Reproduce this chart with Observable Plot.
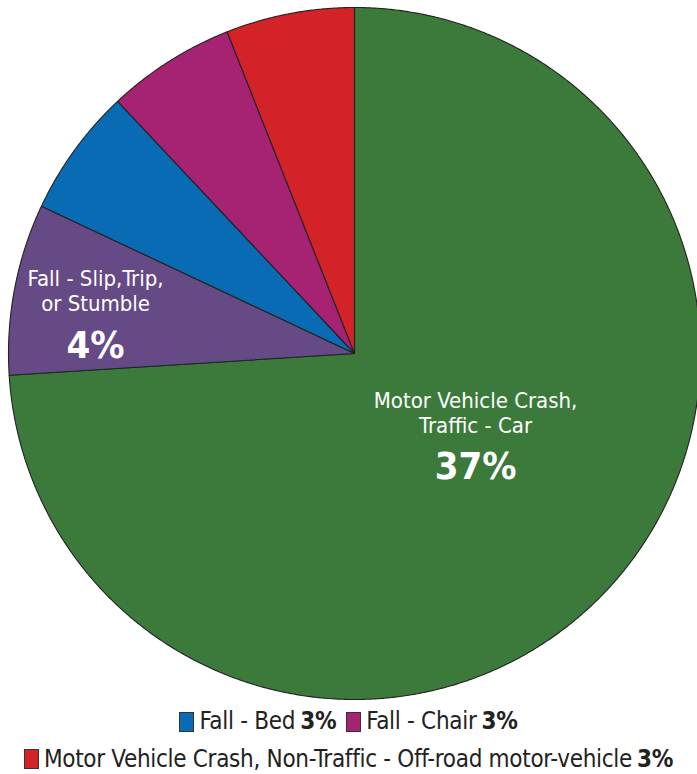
<!DOCTYPE html>
<html>
<head>
<meta charset="utf-8">
<script src="https://cdn.jsdelivr.net/npm/d3@7"></script>
<script src="https://cdn.jsdelivr.net/npm/@observablehq/plot@0.6"></script>
<style>
  html, body { margin: 0; padding: 0; background: #fff; }
  body { width: 697px; height: 774px; overflow: hidden; font-family: "DejaVu Sans Condensed", Roboto, sans-serif; }
  #chart svg { display: block; }
  .legend { text-align: center; font-size: 24px; color: #222; line-height: 35px; letter-spacing: -0.3px; white-space: nowrap; }
  .legend .item { display: inline-flex; align-items: center; margin: 0 5px; }
  .legend .sw { display: inline-block; width: 15px; height: 20px; border: 1.5px solid #333; margin-right: 5px; box-sizing: border-box; }
  .legend b { font-weight: bold; margin-left: 5px; }
</style>
</head>
<body>
<div id="chart"></div>
<div class="legend" id="legend"></div>
<script>
const categories = ["Motor Vehicle Crash, Traffic - Car", "Fall - Slip,Trip, or Stumble", "Fall - Bed", "Fall - Chair", "Motor Vehicle Crash, Non-Traffic - Off-road motor-vehicle"];
const values = [37, 4, 3, 3, 3];
const colors = ["#3b7a3b", "#654a86", "#0a6bb5", "#a62374", "#d42229"];
const sliceLabels = [["Motor Vehicle Crash,", "Traffic - Car"], ["Fall - Slip,Trip,", "or Stumble"], null, null, null];
const legendItems = [2, 3, 4];

const pie = d3.pie().sort(null).value(d => d.value);
const slices = pie(categories.map((c, i) => ({name: c, value: values[i]})));

// polygon points in unit-circle coordinates (angle measured clockwise from top)
const pts = [];
slices.forEach(s => {
  pts.push({name: s.data.name, x: 0, y: 0});
  const n = Math.max(8, Math.ceil((s.endAngle - s.startAngle) / 0.005));
  for (let k = 0; k <= n; k++) {
    const a = s.startAngle + (s.endAngle - s.startAngle) * k / n;
    pts.push({name: s.data.name, x: Math.sin(a), y: Math.cos(a)});
  }
  pts.push({name: s.data.name, x: 0, y: 0});
});

// label placement (styling): radius along mid-angle plus pixel nudge
const placement = [{r: 0.48, dx: 0, dy: 0}, {r: 0.75, dx: -4, dy: 41}];
const lab = [];
slices.forEach((s, i) => {
  if (!sliceLabels[i]) return;
  const mid = (s.startAngle + s.endAngle) / 2;
  const p = placement[lab.length];
  lab.push({x: Math.sin(mid) * p.r, y: Math.cos(mid) * p.r, dx: p.dx, dy: p.dy, lines: sliceLabels[i].join("\n"), pct: values[i] + "%"});
});

const textMarks = lab.flatMap(d => [
  Plot.text([d], {x: "x", y: "y", text: "lines", fill: "white", fontSize: 22, lineHeight: 1.14, dx: d.dx, dy: d.dy - 55, textAnchor: "middle"}),
  Plot.text([d], {x: "x", y: "y", text: "pct", fill: "white", fontSize: 38, fontWeight: "bold", dx: d.dx, dy: d.dy, textAnchor: "middle", letterSpacing: -2.5})
]);

const chart = Plot.plot({
  width: 697,
  height: 704,
  margin: 0,
  style: {background: "transparent", fontFamily: "'DejaVu Sans Condensed', Roboto, sans-serif"},
  x: {domain: [-1, 1], range: [8, 700], axis: null},
  y: {domain: [-1, 1], range: [699, 7], axis: null},
  color: {domain: categories, range: colors},
  marks: [
    Plot.line(pts, {x: "x", y: "y", z: "name", fill: "name", stroke: "#222", strokeWidth: 1.1, strokeLinejoin: "round"}),
    ...textMarks
  ]
});
document.getElementById("chart").appendChild(chart);

const leg = document.getElementById("legend");
const line1 = document.createElement("div");
const line2 = document.createElement("div");
legendItems.forEach((i, k) => {
  const it = document.createElement("span");
  it.className = "item";
  it.innerHTML = `<span class="sw" style="background:${colors[i]}"></span>${categories[i]}<b>${values[i]}%</b>`;
  (k < 2 ? line1 : line2).appendChild(it);
});
leg.appendChild(line1);
leg.appendChild(line2);
</script>
</body>
</html>
